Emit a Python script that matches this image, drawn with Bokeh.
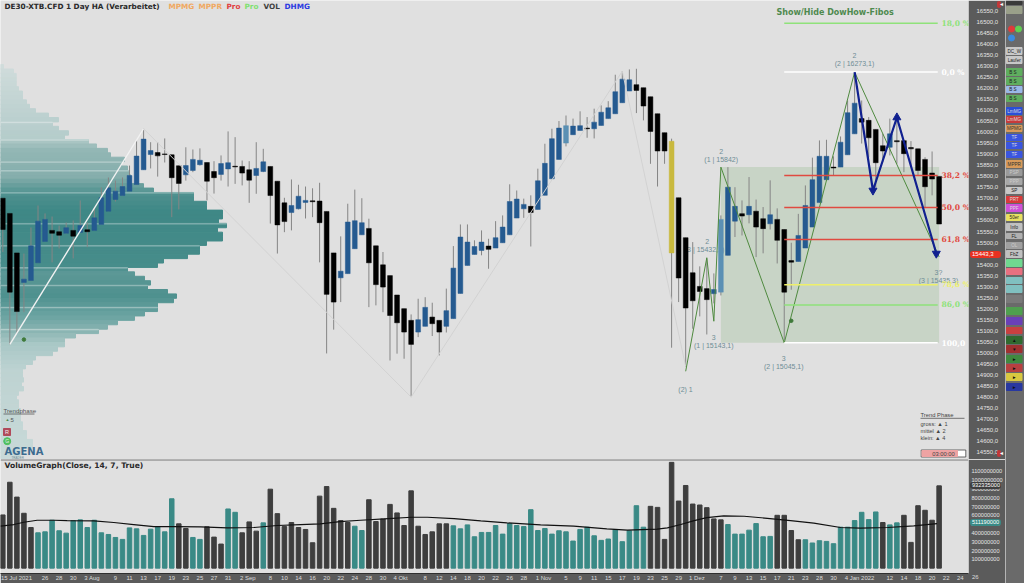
import numpy as np
from bokeh.core.properties import value
from bokeh.embed import file_html
from bokeh.layouts import column, row
from bokeh.models import Div, FixedTicker, Range1d, Span
from bokeh.plotting import figure
from bokeh.resources import INLINE

# ---------- data ----------
highs = [15701,15632,15453,15450,15568,15668,15632,15618,15577,15591,
 15600,15691,15591,15655,15750,15795,15781,15795,15849,15963,
 16016,15955,15955,15972,15898,15848,15932,15922,15927,15863,
 15869,15895,16004,15978,15872,15869,15955,15925,15845,15778,
 15703,15786,15762,15754,15746,15771,15641,15453,15528,15676,
 15740,15701,15608,15485,15457,15350,15262,15200,15174,15245,
 15252,15227,15147,15291,15484,15582,15582,15510,15555,15517,
 15597,15623,15764,15736,15699,15714,15835,15948,16016,16051,
 16076,16062,16095,16069,16107,16122,16141,16261,16277,16285,
 16288,16202,16161,16084,15998,15971,15703,15522,15502,15392,
 15427,15360,15623,15842,15751,15691,15797,15695,15661,15782,
 15655,15559,15499,15630,15759,15885,15963,15966,15891,15981,
 16144,16267,16144,16069,16013,15993,16062,16054,15962,15960,
 15925,15887,15913,15800]
body_top = [15701,15632,15453,15334,15485,15597,15605,15555,15549,15567,
 15555,15577,15558,15612,15703,15748,15733,15754,15804,15892,
 15969,15917,15908,15902,15898,15848,15849,15877,15873,15863,
 15822,15858,15862,15846,15845,15830,15836,15866,15845,15778,
 15680,15668,15710,15691,15689,15688,15641,15453,15370,15593,
 15599,15590,15564,15485,15399,15350,15262,15200,15147,15150,
 15206,15162,15147,15191,15384,15525,15502,15482,15502,15484,
 15522,15570,15686,15697,15673,15664,15780,15859,15971,16019,
 16030,16028,16030,16019,16046,16091,16111,16184,16241,16238,
 16216,16202,16161,16084,15998,15959,15703,15522,15363,15301,
 15291,15287,15605,15751,15664,15631,15664,15642,15608,15626,
 15605,15559,15418,15532,15668,15785,15891,15891,15842,15955,
 16089,16132,16062,16054,16013,15939,15993,15962,15962,15931,
 15925,15877,15815,15800]
body_bot = [15559,15275,15187,15319,15328,15408,15505,15542,15533,15542,
 15529,15546,15549,15555,15582,15642,15695,15713,15733,15763,
 15830,15899,15893,15899,15794,15768,15807,15827,15853,15778,
 15794,15809,15834,15843,15815,15783,15804,15822,15713,15580,
 15595,15636,15653,15682,15685,15590,15265,15230,15340,15359,
 15472,15535,15408,15309,15298,15169,15136,15094,15038,15094,
 15120,15132,15094,15120,15155,15269,15396,15446,15464,15469,
 15475,15499,15535,15611,15653,15636,15650,15714,15789,15877,
 15951,15989,16008,16016,16016,16031,16062,16084,16134,16187,
 16190,16119,16004,15915,15915,15453,15339,15203,15236,15278,
 15241,15268,15275,15442,15597,15620,15626,15570,15563,15585,
 15510,15275,15411,15414,15475,15570,15681,15785,15838,15842,
 15898,15993,16046,15975,15862,15915,15932,15957,15903,15925,
 15827,15753,15788,15584]
lows = [15457,15038,15087,15184,15328,15408,15505,15410,15473,15541,
 15428,15546,15479,15555,15582,15642,15686,15713,15733,15763,
 15830,15836,15799,15863,15615,15650,15781,15819,15849,15691,
 15722,15781,15754,15766,15759,15680,15721,15819,15586,15450,
 15547,15555,15650,15609,15615,15410,14997,15105,15230,15359,
 15472,15535,15207,15215,15184,14965,14996,14973,14799,15071,
 15120,15076,14988,15092,15155,15269,15396,15446,15442,15381,
 15475,15499,15535,15611,15612,15482,15650,15714,15789,15877,
 15936,15989,16008,15975,15972,16031,16062,16084,16134,16187,
 16087,16054,15857,15754,15857,15023,15230,14938,15109,15165,
 15083,15224,15260,15442,15525,15532,15587,15434,15451,15559,
 15405,15056,15286,15414,15475,15570,15681,15785,15804,15842,
 15898,15993,15949,15887,15751,15865,15895,15857,15819,15842,
 15804,15661,15714,15584]
# U = rising (blue), D = falling (black), G = highlighted (gold), L = rising, pale blue
up_bars = [3,4,5,6,9,11,13,14,15,16,17,18,19,20,21,26,27,28,31,32,36,37,41,42,43,48,49,50,51,
           59,60,63,64,65,66,67,68,70,71,72,73,74,76,77,78,79,81,82,84,85,86,87,88,89,
           101,103,104,106,109,113,114,115,116,117,119,120,121,126]
pale_bars = [80,102]
gold_bars = [95]

volume_m = [605,977,808,624,462,402,413,545,425,398,541,549,462,545,402,383,349,327,458,447,
 372,443,470,413,789,504,451,349,327,470,353,274,673,635,402,526,421,515,898,620,
 473,519,462,440,289,819,928,680,541,519,477,428,778,530,560,725,628,485,879,477,
 383,413,504,504,481,447,492,357,406,406,485,387,507,485,473,665,428,451,387,425,
 413,308,440,466,368,316,331,440,301,425,710,466,703,691,327,1203,763,940,729,718,
 688,560,549,496,387,387,432,507,357,361,601,601,428,323,323,286,312,304,278,466,
 466,541,635,552,639,519,492,515,601,293,710,658,545,936]
teal_bars = list(range(5,25)) + [27,28,32,33,37,50,51] + list(range(64,92)) + \
            list(range(103,110)) + list(range(114,125)) + [126,127]
ma_bar = [-0.33,1.57,2.98,4.88,7.25,9.14,12.93,15.77,18.6,21.45,24.3,28.1,31.9,35.65,39,42.3,45.1,47.9,
 50.8,54.2,58,60.3,64.1,67.9,71.6,76.4,81.1,85.8,88.7,92.95,94.4,96.3,
 98.2,100,102.4,105.3,108.6,111.9,115.2,119,121.8,125.7,129.4,132.7]
ma_val = [477,496,522,545,545,541,537,519,496,473,473,470,458,462,485,496,504,530,
 545,560,579,579,564,537,515,492,477,447,432,443,458,496,
 541,575,594,590,567,541,511,462,455,462,481,507]
date_ticks = [1.95,6,8,10,12.7,16,18,20,22,24,26,28,30,32,34.8,38,40,42,44,46,48,50,52,54,56.5,60,62,64,66,68,70,
 72,74,76.8,80,82,84,86,88,90,92,94,96,98.6,102,104,106,108,110,112,114,116,118,121.7,126,128,130,132,134,136]
date_labels = ["15 Jul 2021","26","28","30","3 Aug","9","11","13","17","19","23","25","27","31","2 Sep","8","10","14","16","20","22",
 "24","28","30","4 Okt","8","12","14","18","20","22","26","28","1 Nov","5","9","11","15","17","19","23","25","29",
 "1 Dez","7","9","13","15","17","21","23","28","30","4 Jan 2022","12","14","18","20","22","24"]

# volume profile: one row per 20 points, from the top row downwards
profile_top_price = 16297
profile_vol = [3,13,15.7,15.7,15.7,18,22,22,26,29,35,48,58,52,58,68,64,88,96,107,110,124,121,127,128,130,130,143,153,193,
 193,206,206,222,222,218,226,217,222,222,206,199,199,187,163,157,127,134,144,150,147,167,176,173,157,157,144,134,117,107,
 98,75,64,64,57,52,35,32,25,22,22,23,21,23,18,16,18,18,20,20,20,22,22,26,26,32,32,20,20,15]
profile_stripes = [13,17,22,24,29,36,41,46,50,55,60]

zz_bar = [20,58,88,97];  zz_price = [16016,14799,16277,14938]
zb_bar = [1,20];         zb_price = [15038,16016]
green_bar = [97,100,101,102,111,121,133]
green_price = [14916,15431,15143,15842,15045,16273,15435]
blue_bar = [121,123.6,127,132.6]
blue_price = [16273,15736,16067,15450]
fib_levels = [16494.1,16273.1,15804,15659.1,15514.2,15308,15217,15045.1]
fib_labels = ["18,0 %","0,0 %","38,2 %","50,0 %","61,8 %","78,6 %","86,0 %","100,0"]
fib_colors = ["#8fe27a","#ffffff","#e04a40","#e04a40","#e04a40","#eef06a","#8fe27a","#ffffff"]
fib_from, fib_to = 111, 132.8
box_from, box_to, box_hi, box_lo = 102, 133, 15842, 15045
price_ticks = list(range(14550, 16551, 50))
vol_ticks = [m * 100 for m in range(1, 12)]
last_price = "15443,3"
last_volume = "932335000"
last_average = "511190000"

candle_kind = ["D"] * len(highs)
for i in up_bars:
    candle_kind[i] = "U"
for i in pale_bars:
    candle_kind[i] = "L"
for i in gold_bars:
    candle_kind[i] = "G"

# ---------- scales ----------
BAR = 7.04
X0 = -2.3 / BAR
XR = (X0, X0 + 968 / BAR)
PY = 4.535
PT = 16597.6
fx = lambda px: (px - 2.3) / BAR
fy = lambda py: PT - PY * py
VB = 0.0887
vy = lambda py: (568.6 - py) / VB
BG = "#e0e0e0"
STRIP = "#5b5b5b"
SANS = "Liberation Sans"

p = figure(width=1005, height=459, output_backend="svg", toolbar_location=None,
           x_range=Range1d(*XR), y_range=Range1d(fy(459), PT),
           x_axis_location=None, y_axis_location="right",
           min_border_left=0, min_border_top=0, min_border_bottom=0, min_border_right=37,
           background_fill_color=BG, border_fill_color=STRIP, outline_line_color=None)
p.grid.visible = False
ax = p.yaxis[0]
ax.ticker = FixedTicker(ticks=price_ticks)
ax.major_label_overrides = {v: f"{v},0" for v in price_ticks}
ax.major_label_text_color = "#e4e4e4"
ax.major_label_text_font = SANS
ax.major_label_text_font_size = "6px"
ax.major_label_standoff = 8
ax.major_tick_line_color = None
ax.minor_tick_line_color = None
ax.major_tick_out = 0
ax.minor_tick_out = 0
ax.axis_line_color = None

def T(fig, px, yval, s, color, size, bold=False, align="left", font=SANS):
    fig.text(x=[fx(px)], y=[yval], text=[s], text_color=color, text_font=value(font),
             text_font_size=size, text_font_style="bold" if bold else "normal",
             text_align=align, text_baseline="middle")

# volume profile
p.extra_x_ranges["profile"] = Range1d(0, 968)
rows_y = [profile_top_price - 20 * k for k in range(len(profile_vol))]
anch_k = [0,16,19,25,29,33,45,47,52,57,60,63,69,89]
anch_c = ["d0dcdb","b5cdcb","93b7b5","85aeac","4e918f","3f8886","478d8b","5c9896","4f918f","6ea5a3","8bb5b3","a9c8c6","bed3d2","c9dad9"]
rgb = np.array([[int(c[j:j+2], 16) for j in (0, 2, 4)] for c in anch_c], float)
cols = []
for k in range(len(profile_vol)):
    vv = [int(np.interp(k, anch_k, rgb[:, d])) for d in range(3)]
    cols.append("#%02x%02x%02x" % tuple(vv))
p.hbar(y=rows_y, left=0, right=profile_vol, height=20, color=cols, x_range_name="profile")
p.hbar(y=[rows_y[k] + 8 for k in profile_stripes], left=0, right=[profile_vol[k] for k in profile_stripes],
       height=3.5, color="#ffffff", alpha=0.2, x_range_name="profile")

# shaded fibo box and small labels beneath the candles
p.quad(left=[box_from], right=[box_to], top=[box_hi], bottom=[box_lo], color="#c8d4c6", line_color=None)
LBL = "#6f8d96"
for px, py, s in [(854,55,"2"),(854,63.3,"(2 | 16273,1)"),(720.7,150.5,"2"),(720.7,158.7,"(1 | 15842)"),
                  (706.7,240.7,"2"),(704,248.5,"(3 | 15432,1)"),(713.3,336.7,"3"),(713.3,344.7,"(1 | 15143,1)"),
                  (685,389.3,"(2) 1"),(783.3,358.3,"3"),(783.3,366,"(2 | 15045,1)"),(938,272.3,"3?"),(938,280,"(3 | 15435,3)")]:
    T(p, px, fy(py), s, LBL, "7px", align="center")

# candles
x = list(range(len(highs)))
fills = {"U": "#255a90", "D": "#000000", "G": "#c9b93e", "L": "#5b90b4"}
p.segment(x0=x, x1=x, y0=lows, y1=highs, color="#858585", line_width=1)
p.vbar(x=x, top=body_top, bottom=body_bot, width=0.68, color=[fills[k] for k in candle_kind], line_width=0.5)

# zigzag, fibo lines, arrows
p.line(zz_bar, zz_price, color="#d2d2d2", line_width=1)
p.line(zb_bar, zb_price, color="#f2f2f2", line_width=1.4)
p.line(green_bar, green_price, color="#4f8a3f", line_width=1)
for lv, s, c in zip(fib_levels, fib_labels, fib_colors):
    p.line([fib_from, fib_to], [lv, lv], color=c, line_width=1.5)
    T(p, 941, lv, s, c, "7.6px", bold=True, font="DejaVu Serif")
p.line(blue_bar, blue_price, color="#10208f", line_width=2.2)
p.scatter([blue_bar[1], blue_bar[3]], [blue_price[1], blue_price[3]], marker="inverted_triangle", size=8, color="#10208f")
p.scatter([blue_bar[2]], [blue_price[2]], marker="triangle", size=8, color="#10208f")
p.scatter([3, 112], [15060, 15145], marker="circle", size=3.5, color="#3f7a3a")

# chart texts
T(p, 4, fy(5.5), "DE30-XTB.CFD 1 Day HA (Verarbeitet)", "#2a2a2a", "7.3px", bold=True, font="DejaVu Sans")
for px, s, c in [(168,"MPMG","#f0a860"),(198,"MPPR","#f0a860"),(226,"Pro","#e04040"),(244,"Pro","#80e070"),(263,"VOL","#404040"),(284,"DHMG","#2a3ae0")]:
    T(p, px, fy(5.5), s, c, "7.3px", bold=True, font="DejaVu Sans")
T(p, 776, fy(12), "Show/Hide DowHow-Fibos", "#4f8a4f", "8px", bold=True, font="DejaVu Sans")
T(p, 3, fy(410), "Trendphase", "#555555", "6.2px")
p.line([fx(3), fx(34)], [fy(413.5)] * 2, color="#555555", line_width=0.8)
T(p, 5, fy(419), "▲", "#4f8a4f", "4px")
T(p, 10, fy(419), "5", "#555555", "6px")
p.quad(left=[fx(3)], right=[fx(10)], top=[fy(428)], bottom=[fy(435)], color="#b04a5a")
T(p, 6.5, fy(431.5), "R", "#f0f0f0", "5.5px", align="center")
p.scatter([fx(6.7)], [fy(440.7)], marker="circle", size=7, color="#4fc05f")
T(p, 6.7, fy(440.7), "G", "#f0f0f0", "5px", align="center")
T(p, 4, fy(450.5), "AGENA", "#3d6c8f", "10px", bold=True, font="DejaVu Sans")
T(p, 11, fy(457), "TRADER", "#6f8d96", "3px")
T(p, 920, fy(414), "Trend Phase", "#444444", "5.8px")
p.line([fx(920), fx(964)], [fy(417.8)] * 2, color="#555555", line_width=0.8)
for py, s in [(423,"gross: ▲ 1"),(430,"mittel ▲ 2"),(437,"klein:  ▲ 4")]:
    T(p, 920, fy(py), s, "#444444", "5.6px")
p.quad(left=[fx(920.7)], right=[fx(965.3)], top=[fy(449.5)], bottom=[fy(456.5)], fill_color="#ffffff", line_color="#444444", line_width=0.8)
p.quad(left=[fx(921.5)], right=[fx(957)], top=[fy(450)], bottom=[fy(456)], color="#eea3a3")
T(p, 943, fy(453), "03:00:00", "#444444", "5.8px", align="center")

# ---------- volume panel ----------
v = figure(width=1005, height=124, output_backend="svg", toolbar_location=None,
           x_range=p.x_range, y_range=Range1d(vy(574), vy(459)),
           y_axis_location="right", min_border_left=0, min_border_top=0, min_border_bottom=9, min_border_right=37,
           background_fill_color=BG, border_fill_color=STRIP, outline_line_color=None)
v.grid.visible = False
bx = v.xaxis[0]
bx.ticker = FixedTicker(ticks=date_ticks)
bx.major_label_overrides = dict(zip(date_ticks, date_labels))
bx.major_label_text_color = "#dcdcdc"
bx.major_label_text_font = SANS
bx.major_label_text_font_size = "6px"
bx.major_label_standoff = 1
bx.major_tick_line_color = None
bx.minor_tick_line_color = None
bx.major_tick_out = 0
bx.minor_tick_out = 0
bx.axis_line_color = "#2f2f2f"
vx = v.yaxis[0]
vx.ticker = FixedTicker(ticks=vol_ticks)
vx.major_label_overrides = {m: f"{m * 1000000}" for m in vol_ticks}
vx.major_label_text_color = "#e4e4e4"
vx.major_label_text_font = SANS
vx.major_label_text_font_size = "5.6px"
vx.major_label_standoff = 3
vx.major_tick_line_color = None
vx.minor_tick_line_color = None
vx.major_tick_out = 0
vx.minor_tick_out = 0
vx.axis_line_color = None
bar_cols = ["#3a8a86" if i in teal_bars else "#3e3e3e" for i in range(len(volume_m))]
v.vbar(x=list(range(len(volume_m))), top=volume_m, bottom=0, width=0.64, color=bar_cols)
v.line(ma_bar, ma_val, color="#111111", line_width=1.2)
v.add_layout(Span(location=vy(459.2), dimension="width", line_color="#777777", line_width=1.5))
T(v, 4, vy(465), "VolumeGraph(Close, 14, 7, True)", "#2a2a2a", "7.6px", bold=True, font="DejaVu Sans")

# ---------- button column on the far right ----------
buttons = [(1,4,"","#3a3a3a","#fff"),(6,13,"","#9aa08a","#fff"),(47,54,"DC_W","#c8c8c8","#222"),(56,63,"Laufer","#c8c8c8","#222"),
 (68,75,"B   S","#5fae5f","#222"),(77,84,"B   S","#5fae5f","#222"),(86,92,"B   S","#9ab8e8","#222"),(95,101,"B   S","#5fae5f","#222"),
 (107,114,"LmMG","#2a4fd8","#ddd"),(116,122,"LmMG","#c83a3a","#ddd"),(125,131,"MPMG","#d89a5a","#333"),
 (134,140,"TF","#3a55e0","#ddd"),(142,148,"TF","#3a55e0","#ddd"),(151,157,"TF","#3a55e0","#ddd"),(160,167,"MPPR","#d89a5a","#333"),
 (169,175,"PSP","#9a9a9a","#ccc"),(178,184,"PPP","#a8a8a8","#ccc"),(187,193,"SP","#c8c8c8","#222"),
 (196,202,"PRT","#d83a3a","#ddd"),(204,211,"PPF","#d050d8","#ddd"),(214,220,"50er","#e8e060","#222"),(223,230,"Info","#c0c0c0","#222"),
 (233,238,"FL","#b0b0b0","#222"),(242,248,"OL","#a0a0a0","#ccc"),(250,257,"FbZ","#c0c0c0","#222"),
 (259,266,"","#70d890","#fff"),(268,274,"","#e87080","#fff"),(277,283,"","#80c0c0","#fff"),(285,292,"","#80c0c0","#fff"),(295,302,"","#7a7a7a","#fff"),
 (307,314,"","#4fa04f","#fff"),(317,324,"","#6a40b8","#fff"),(327,333,"","#c84040","#fff"),
 (336,343,"▲","#2f6a2f","#111"),(345,352,"▼","#a03030","#111"),(355,362,"►","#3f8a3f","#111"),(364,371,"►","#b84040","#111"),
 (373,380,"►","#d8c840","#111"),(383,390,"►","#2838a0","#111")]
s = figure(width=19, height=583, output_backend="svg", toolbar_location=None,
           x_range=Range1d(0, 19), y_range=Range1d(583, 0), x_axis_location=None, y_axis_location=None,
           min_border=0, background_fill_color="#6a6a6a", border_fill_color="#6a6a6a", outline_line_color=None)
s.grid.visible = False
s.quad(left=1, right=16.5, top=[b[0] for b in buttons], bottom=[b[1] for b in buttons], color=[b[3] for b in buttons])
s.text(x=8.7, y=[(b[0] + b[1]) / 2 for b in buttons], text=[b[2] for b in buttons], text_color=[b[4] for b in buttons],
       text_font=value(SANS), text_font_size="4.6px", text_align="center", text_baseline="middle")
s.scatter([6, 13], [28.5, 28.5], marker="circle", size=6, color=["#e03a3a", "#62cf52"])
s.scatter([6], [37.5], marker="circle", size=6, color="#3a8ae0")

# ---------- small tags sitting on the axis strips ----------
def tag(text, left, top, bg, color="#ffffff", size=6, w=None):
    st = {"position": "absolute", "left": f"{left}px", "top": f"{top}px", "z-index": "10",
          "font-family": SANS, "font-size": f"{size}px", "line-height": "7px", "height": "7px",
          "color": color, "background-color": bg, "border-radius": "3px", "padding": "0 2px", "white-space": "nowrap"}
    return Div(text=text, styles=st, margin=0, width=w)

tags = [tag(last_price, 970, 251, "#e83020", w=31),
        tag("◄", 997, 1, "#c23838", size=5, w=3),
        tag("◄", 997, 450, "#c23838", size=5, w=3),
        tag(last_volume, 970, 482, "#3e3e3e", size=5.6, w=31),
        tag(last_average, 970, 519, "#3a8a86", size=5.6, w=31),
        tag("26", 970, 574, "transparent", color="#dcdcdc", w=10)]

layout = row(column(p, v, spacing=0), s, *tags, spacing=0)
open("out.html", "w").write(file_html(layout, INLINE))
